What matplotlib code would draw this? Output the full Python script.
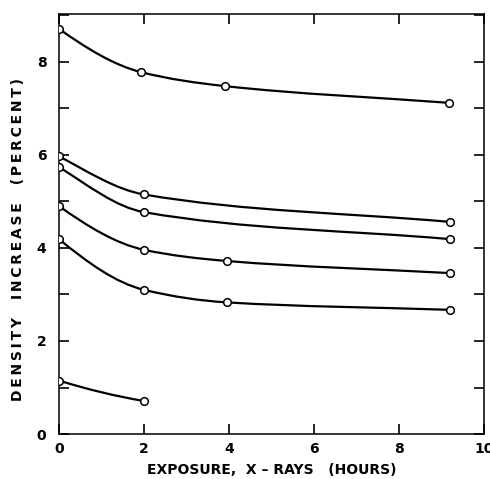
import numpy as np
import matplotlib
matplotlib.use("Agg")
import matplotlib.pyplot as plt
from matplotlib.path import Path
from matplotlib.patches import PathPatch

# exposure (hours) and density increase (percent) for each specimen
x_a = [0, 1.93, 3.9, 9.18]
y_a = [8.71, 7.78, 7.48, 7.12]
x_b = [0, 2.0, 9.2]
y_b = [5.97, 5.15, 4.56]
x_c = [0, 2.0, 9.2]
y_c = [5.74, 4.77, 4.19]
x_d = [0, 2.0, 3.95, 9.2]
y_d = [4.9, 3.96, 3.72, 3.46]
x_e = [0, 2.0, 3.95, 9.2]
y_e = [4.19, 3.1, 2.83, 2.67]
x_f = [0, 2.0]
y_f = [1.15, 0.71]

series = [(x_a, y_a), (x_b, y_b), (x_c, y_c), (x_d, y_d), (x_e, y_e), (x_f, y_f)]

xticks = [0, 2, 4, 6, 8, 10]
yticks = [0, 2, 4, 6, 8]
xlabel = "EXPOSURE,  X \u2013 RAYS   (HOURS)"
ylabel = "DENSITY  INCREASE  (PERCENT)"


def slopes(x, y):
    # monotone tangents (pchip style), secant at the far end
    x = np.asarray(x, float); y = np.asarray(y, float)
    h = np.diff(x); d = np.diff(y) / h
    n = len(x)
    m = np.zeros(n)
    if n == 2:
        return np.array([1.3 * d[0], 0.7 * d[0]])
    for k in range(1, n - 1):
        w1 = 2 * h[k] + h[k - 1]
        w2 = h[k] + 2 * h[k - 1]
        m[k] = (w1 + w2) / (w1 / d[k - 1] + w2 / d[k])
    m[0] = ((2 * h[0] + h[1]) * d[0] - h[0] * d[1]) / (h[0] + h[1])
    if np.sign(m[0]) != np.sign(d[0]):
        m[0] = 0
    m[-1] = d[-1]
    return m


def smooth_path(x, y):
    m = slopes(x, y)
    verts = [(x[0], y[0])]
    codes = [Path.MOVETO]
    for k in range(len(x) - 1):
        h = x[k + 1] - x[k]
        verts += [(x[k] + h / 3, y[k] + m[k] * h / 3),
                  (x[k + 1] - h / 3, y[k + 1] - m[k + 1] * h / 3),
                  (x[k + 1], y[k + 1])]
        codes += [Path.CURVE4] * 3
    return Path(verts, codes)


def spaced(s, sep="\u2009"):
    return sep.join(s)


fig = plt.figure(figsize=(4.9, 4.79), dpi=100)
ax = fig.add_axes([0.1204, 0.0939, 0.8674, 0.8769])

for xs, ys in series:
    ax.add_patch(PathPatch(smooth_path(xs, ys), facecolor="none",
                           edgecolor="black", lw=1.6, zorder=2))
    ax.plot(xs, ys, ls="none", marker="o", ms=5.5, mfc="white",
            mec="black", mew=1.1, zorder=3)

ax.set_xlim(0, 10)
ax.set_ylim(0, 9.03)
ax.set_xticks(xticks)
ax.set_xticklabels([str(t) for t in xticks], fontweight="bold")
ax.set_yticks(yticks)
ax.set_yticks([1, 3, 5, 7, 9], minor=True)
ax.set_yticklabels([str(t) for t in yticks], fontweight="bold")

ax.tick_params(which="both", direction="in", top=True, right=True,
               length=7, width=1.2, labelsize=10)
ax.tick_params(axis="x", pad=6)
ax.tick_params(axis="y", pad=9)
for s in ax.spines.values():
    s.set_linewidth(1.1)

ax.set_xlabel(xlabel, fontsize=10, fontweight="bold", labelpad=5)
ax.set_ylabel(spaced(ylabel), fontsize=10, fontweight="bold")
ax.yaxis.set_label_coords(-0.08, 0.462)

fig.savefig("out.png", dpi=100)
